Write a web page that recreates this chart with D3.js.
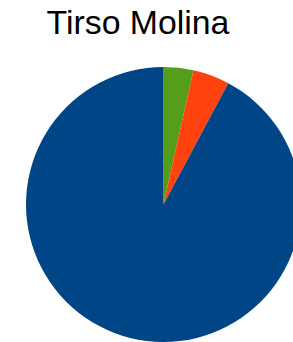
<!DOCTYPE html>
<html><head><meta charset="utf-8">
<script src="https://cdn.jsdelivr.net/npm/d3@7"></script>
<style>html,body{margin:0;padding:0;background:#fff;}svg{display:block;}</style>
</head><body>
<script>
const title = "Tirso Molina";
const categories = ["A", "B", "C"];
const values = [3.5, 4.3, 92.2];
const colors = ["#579d1c", "#ff420e", "#004586"];

const W = 293, H = 342;
const svg = d3.select("body").append("svg").attr("width", W).attr("height", H);
svg.append("text").attr("x", 138).attr("y", 34).attr("text-anchor", "middle")
  .attr("font-family", "Liberation Sans, Arial, sans-serif").attr("font-size", 33.8)
  .attr("fill", "#000").text(title);

const pie = d3.pie().sort(null).value(d => d.v);
const arc = d3.arc().innerRadius(0).outerRadius(137.5);
const g = svg.append("g").attr("transform", "translate(163.5,204.5)");
g.selectAll("path").data(pie(categories.map((c, i) => ({c, v: values[i]}))))
  .join("path").attr("d", arc).attr("fill", (d, i) => colors[i]);
</script>
</body></html>
